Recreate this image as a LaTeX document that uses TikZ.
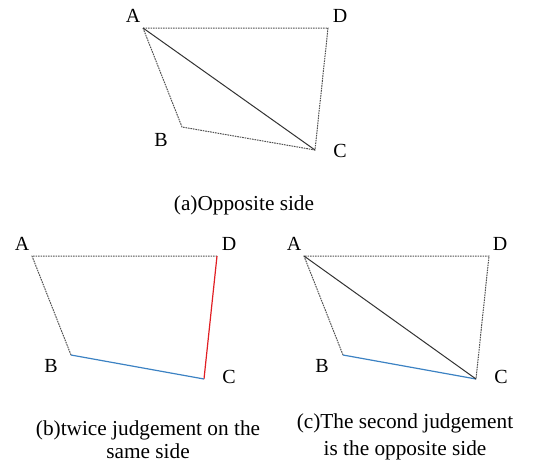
\documentclass[tikz,border=0pt]{standalone}
\usepackage{fontspec}
\setmainfont{Liberation Serif}
\begin{document}
\begin{tikzpicture}[x=1pt,y=-1pt,
  lbl/.style={anchor=base,inner sep=0pt,font=\rmfamily\fontsize{20}{22}\selectfont},
  captext/.style={anchor=base,inner sep=0pt,font=\rmfamily\fontsize{21.3}{24}\selectfont},
  dots/.style={draw={rgb,255:red,80;green,80;blue,80},line width=1pt,dash pattern=on 1.6pt off 0.9pt},
  diag/.style={draw={rgb,255:red,50;green,50;blue,50},line width=1pt},
  blueside/.style={draw={rgb,255:red,60;green,130;blue,195},line width=1.2pt},
  redside/.style={draw={rgb,255:red,225;green,30;blue,35},line width=1.2pt}]
\useasboundingbox (0,0) rectangle (533,464);
% (a)
\coordinate (aA) at (143,28);
\coordinate (aD) at (328,28);
\coordinate (aB) at (182,127);
\coordinate (aC) at (315,150);
\draw[dots] (aA) -- (aD) -- (aC) -- (aB) -- cycle;
\draw[diag] (aA) -- (aC);
\node[lbl] (laA) at (133,22) {A};
\node[lbl] (laD) at (340,22) {D};
\node[lbl] (laB) at (161,146) {B};
\node[lbl] (laC) at (340,157) {C};
\node[captext] (capa) at (244,210) {(a)Opposite side};
% (b)
\coordinate (bA) at (32,256);
\coordinate (bD) at (217,256);
\coordinate (bB) at (71,355);
\coordinate (bC) at (204,379);
\draw[dots] (bB) -- (bA) -- (bD);
\draw[redside] (bD) -- (bC);
\draw[blueside] (bB) -- (bC);
\node[lbl] (lbA) at (22,250) {A};
\node[lbl] (lbD) at (229,250) {D};
\node[lbl] (lbB) at (51,372) {B};
\node[lbl] (lbC) at (229,383) {C};
\node[captext] (capb1) at (148,435) {(b)twice judgement on the};
\node[captext] (capb2) at (148,458) {same side};
% (c)
\coordinate (cA) at (304,256);
\coordinate (cD) at (489,256);
\coordinate (cB) at (343,355);
\coordinate (cC) at (476,379);
\draw[dots] (cB) -- (cA) -- (cD) -- (cC);
\draw[blueside] (cB) -- (cC);
\draw[diag] (cA) -- (cC);
\node[lbl] (lcA) at (294,250) {A};
\node[lbl] (lcD) at (500,250) {D};
\node[lbl] (lcB) at (322,372) {B};
\node[lbl] (lcC) at (501,383) {C};
\node[captext] (capc1) at (405,428) {(c)The second judgement};
\node[captext] (capc2) at (405,455) {is the opposite side};
\end{tikzpicture}
\end{document}
